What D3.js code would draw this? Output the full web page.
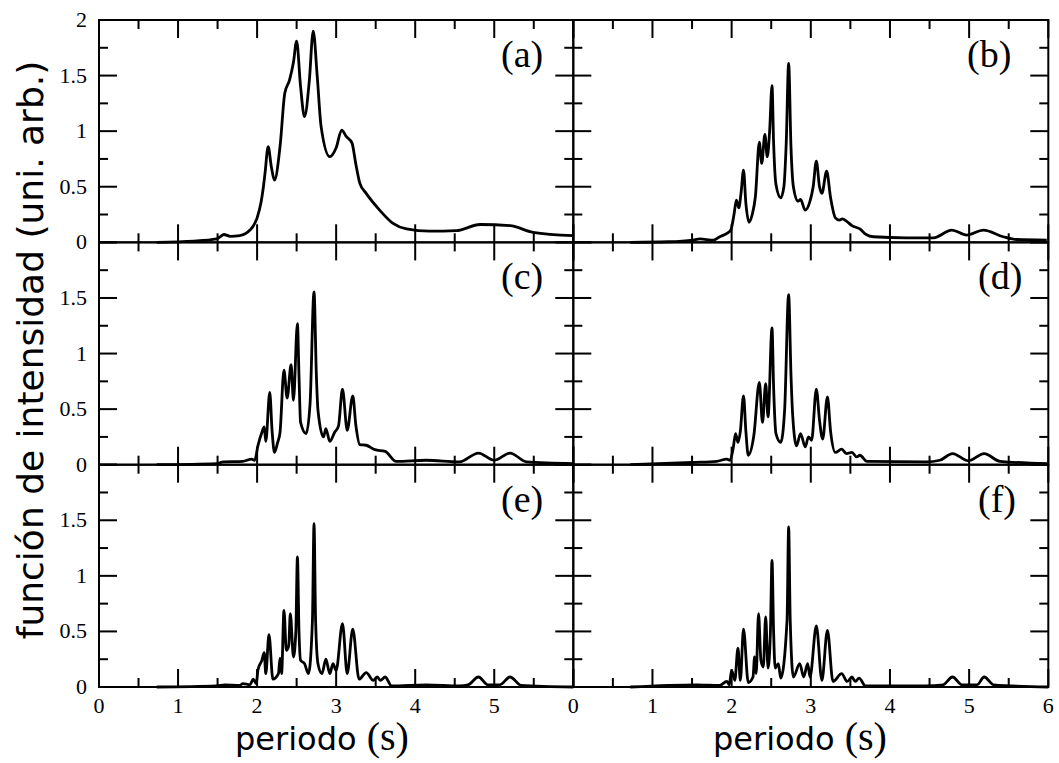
<!DOCTYPE html>
<html><head><meta charset="utf-8">
<script src="https://cdn.jsdelivr.net/npm/d3@7"></script>
<style>body{margin:0;background:#fff}</style>
</head><body><svg id="c" width="1059" height="763"></svg>
<script>
// ---------- DATA ----------
const panelLabels = ["(a)","(b)","(c)","(d)","(e)","(f)"];
const xLabel = "periodo";
const xLabelUnit = "(s)";
const yLabel = "función de intensidad (uni. arb.)";
const xTicksMajor = [0,1,2,3,4,5,6];
const xTicksMinor = [0.5,1.5,2.5,3.5,4.5,5.5];
const xTickLabelsLeft = ["0","1","2","3","4","5"];
const xTickLabelsRight = ["0","1","2","3","4","5","6"];
const yTicksMajor = [0,0.5,1,1.5,2];
const yTicksMinor = [0.25,0.75,1.25,1.75];
const yTickLabelsTop = ["0","0.5","1","1.5","2"];
const yTickLabels = ["0","0.5","1","1.5"];

const periodA = [0.73,1.2,1.49,1.58,1.66,1.78,1.91,2.0,2.05,2.08,2.1,2.14,2.18,2.22,2.29,2.35,2.41,2.46,2.5,2.55,2.6,2.66,2.71,2.76,2.81,2.92,3.0,3.07,3.13,3.2,3.25,3.3,3.38,3.55,3.72,3.89,4.18,4.52,4.82,5.2,5.49,6.0];
const intensityA = [0.0,0.01,0.03,0.07,0.054,0.06,0.11,0.22,0.36,0.5,0.62,0.86,0.68,0.56,0.86,1.34,1.46,1.62,1.81,1.4,1.13,1.45,1.9,1.5,1.04,0.77,0.85,1.01,0.95,0.895,0.7,0.53,0.44,0.29,0.17,0.12,0.10,0.105,0.16,0.15,0.09,0.06];

const periodB = [0.72,1.2,1.51,1.6,1.77,1.85,1.94,1.99,2.03,2.06,2.09,2.12,2.15,2.18,2.22,2.26,2.30,2.35,2.38,2.42,2.45,2.48,2.51,2.53,2.56,2.62,2.66,2.69,2.72,2.75,2.78,2.84,2.87,2.93,2.99,3.03,3.07,3.11,3.14,3.20,3.25,3.31,3.36,3.40,3.45,3.52,3.62,3.70,3.79,4.21,4.55,4.78,4.97,5.18,5.43,5.6,5.98];
const intensityB = [0,0.005,0.02,0.03,0.02,0.05,0.08,0.11,0.25,0.38,0.31,0.45,0.65,0.35,0.18,0.25,0.41,0.9,0.71,0.97,0.77,1.0,1.41,0.9,0.52,0.40,0.5,0.9,1.61,0.85,0.50,0.37,0.385,0.29,0.37,0.5,0.73,0.5,0.44,0.64,0.4,0.22,0.2,0.21,0.19,0.15,0.12,0.07,0.05,0.04,0.04,0.11,0.065,0.11,0.05,0.025,0.02];

const periodC = [0.73,1.49,1.57,1.82,1.93,1.97,2.01,2.06,2.09,2.11,2.16,2.19,2.22,2.26,2.29,2.34,2.38,2.43,2.46,2.51,2.53,2.55,2.62,2.67,2.72,2.75,2.77,2.84,2.87,2.92,2.98,3.03,3.08,3.14,3.21,3.25,3.3,3.38,3.49,3.62,3.76,4.14,4.56,4.8,5.0,5.2,5.41,6.0];
const intensityC = [0,0.01,0.025,0.03,0.05,0.04,0.17,0.29,0.34,0.21,0.65,0.3,0.11,0.2,0.29,0.85,0.60,0.90,0.58,1.27,0.8,0.38,0.28,0.55,1.555,0.8,0.49,0.25,0.325,0.21,0.29,0.35,0.68,0.31,0.62,0.35,0.18,0.175,0.135,0.12,0.03,0.04,0.025,0.105,0.04,0.105,0.025,0.01];

const periodD = [0.72,1.51,1.81,1.94,1.98,2.02,2.05,2.08,2.11,2.15,2.18,2.21,2.28,2.35,2.39,2.43,2.46,2.51,2.53,2.56,2.62,2.67,2.72,2.75,2.77,2.82,2.87,2.93,2.97,3.01,3.07,3.11,3.15,3.21,3.25,3.31,3.39,3.45,3.52,3.58,3.62,3.71,4.46,4.63,4.79,4.99,5.19,5.39,6.0];
const intensityD = [0,0.02,0.03,0.05,0.04,0.15,0.28,0.2,0.3,0.62,0.3,0.085,0.26,0.74,0.38,0.73,0.43,1.23,0.7,0.28,0.20,0.5,1.53,0.8,0.46,0.17,0.28,0.16,0.25,0.22,0.68,0.4,0.23,0.61,0.3,0.11,0.14,0.10,0.11,0.07,0.085,0.03,0.025,0.04,0.1,0.035,0.1,0.03,0.01];

const periodE = [0.73,1.49,1.59,1.78,1.82,1.91,1.95,1.99,2.01,2.06,2.09,2.11,2.15,2.2,2.27,2.29,2.31,2.34,2.37,2.40,2.42,2.46,2.49,2.51,2.53,2.55,2.60,2.65,2.70,2.72,2.74,2.77,2.82,2.87,2.92,2.96,3.0,3.08,3.14,3.21,3.29,3.38,3.47,3.52,3.56,3.62,3.70,4.14,4.56,4.67,4.80,4.92,5.07,5.20,5.34,6.0];
const intensityE = [0,0.01,0.02,0.015,0.03,0.02,0.07,0.03,0.15,0.24,0.31,0.12,0.47,0.07,0.12,0.26,0.12,0.69,0.33,0.37,0.66,0.27,0.5,1.17,0.5,0.24,0.21,0.12,0.6,1.47,0.6,0.21,0.12,0.25,0.12,0.21,0.15,0.57,0.12,0.52,0.07,0.13,0.06,0.09,0.06,0.09,0.01,0.02,0.01,0.02,0.09,0.02,0.02,0.09,0.015,0];

const periodF = [0.72,1.56,1.85,1.94,1.97,2.0,2.04,2.08,2.11,2.15,2.21,2.27,2.29,2.31,2.34,2.37,2.40,2.43,2.46,2.49,2.51,2.53,2.55,2.59,2.62,2.70,2.72,2.74,2.78,2.86,2.91,2.96,2.99,3.07,3.14,3.21,3.28,3.39,3.46,3.52,3.56,3.61,3.69,4.45,4.67,4.79,4.91,5.1,5.19,5.31,6.0];
const intensityF = [0,0.02,0.015,0.05,0.02,0.15,0.06,0.35,0.06,0.52,0.04,0.09,0.27,0.12,0.66,0.24,0.18,0.63,0.17,0.5,1.14,0.5,0.17,0.21,0.08,0.6,1.44,0.6,0.09,0.21,0.09,0.21,0.09,0.55,0.06,0.51,0.05,0.12,0.05,0.09,0.05,0.08,0.01,0.01,0.02,0.09,0.02,0.02,0.09,0.02,0];

const panelPeriods = [periodA, periodB, periodC, periodD, periodE, periodF];
const panelIntensities = [intensityA, intensityB, intensityC, intensityD, intensityE, intensityF];

// ---------- LAYOUT ----------
const svg = d3.select("#c");
const colX = [[99, 573.3], [573.3, 1048.3]];
const rowTop = [20, 242.4, 464.7];
const rowH = 222.3;
const labelStartX = [501, 967, 501, 978, 501, 978];
const serif = "'Liberation Serif','Times New Roman',serif";
const sans = "'DejaVu Sans',sans-serif";
const MAJ = 18, MIN = 9, TW = 2;

svg.append("rect").attr("width",1059).attr("height",763).attr("fill","#fff");

panelPeriods.forEach((per, i) => {
  const col = i % 2, row = Math.floor(i / 2);
  const [x0, x1] = colX[col];
  const top = rowTop[row], bot = top + rowH;
  const x = d3.scaleLinear().domain([0, 6]).range([x0, x1]);
  const y = d3.scaleLinear().domain([0, 2]).range([bot, top]);
  const vals = panelIntensities[i];
  const pts = per.map((p, k) => [p, vals[k]]);

  const g = svg.append("g");
  g.append("path").datum(pts)
    .attr("fill", "none").attr("stroke", "#000").attr("stroke-width", 2.8)
    .attr("stroke-linejoin", "round")
    .attr("d", d3.line().x(d => x(d[0])).y(d => y(d[1])).curve(d3.curveMonotoneX));

  // ticks drawn as thin filled rectangles placed by the scales (inward on all four sides)
  const tg = g.append("g");
  const xTick = (vals, len) => {
    vals.forEach(d => {
      tg.append("rect").attr("x", x(d) - TW / 2).attr("y", bot - len).attr("width", TW).attr("height", len).attr("fill", "#000");
      tg.append("rect").attr("x", x(d) - TW / 2).attr("y", top).attr("width", TW).attr("height", len).attr("fill", "#000");
    });
  };
  const yTick = (vals, len) => {
    vals.forEach(d => {
      tg.append("rect").attr("x", x0).attr("y", y(d) - TW / 2).attr("width", len).attr("height", TW).attr("fill", "#000");
      tg.append("rect").attr("x", x1 - len).attr("y", y(d) - TW / 2).attr("width", len).attr("height", TW).attr("fill", "#000");
    });
  };
  xTick(xTicksMajor, MAJ);
  xTick(xTicksMinor, MIN);
  yTick(yTicksMajor, MAJ);
  yTick(yTicksMinor, MIN);

  g.append("rect").attr("x", x0).attr("y", top).attr("width", x1 - x0).attr("height", rowH)
    .attr("fill", "none").attr("stroke", "#000").attr("stroke-width", 2);

  // tick labels
  if (row === 2) {
    const labs = col === 0 ? xTickLabelsLeft : xTickLabelsRight;
    g.selectAll(null).data(labs).enter().append("text")
      .attr("x", (d, k) => x(xTicksMajor[k])).attr("y", bot + 26)
      .attr("text-anchor", "middle").attr("font-family", serif).attr("font-size", 22).attr("fill", "#000")
      .text(d => d);
  }
  if (col === 0) {
    const labs = row === 0 ? yTickLabelsTop : yTickLabels;
    g.selectAll(null).data(labs).enter().append("text")
      .attr("x", x0 - 12).attr("y", (d, k) => y(yTicksMajor[k]) + 7)
      .attr("text-anchor", "end").attr("font-family", serif).attr("font-size", 22).attr("fill", "#000")
      .text(d => d);
  }

  g.append("text").attr("x", labelStartX[i]).attr("y", top + 47)
    .attr("font-family", serif).attr("font-size", 38).attr("fill", "#000")
    .text(panelLabels[i]);
});

// axis titles
[322, 800].forEach(cx => {
  const t = svg.append("text").attr("x", cx).attr("y", 750).attr("text-anchor", "middle").attr("fill", "#000");
  t.append("tspan").attr("font-family", sans).attr("font-size", 32).text(xLabel + " ");
  t.append("tspan").attr("font-family", serif).attr("font-size", 40).text(xLabelUnit);
});

svg.append("text")
  .attr("transform", "translate(43,350) rotate(-90)")
  .attr("text-anchor", "middle").attr("font-family", sans).attr("font-size", 36).attr("fill", "#000")
  .text(yLabel);
</script>
</body></html>
